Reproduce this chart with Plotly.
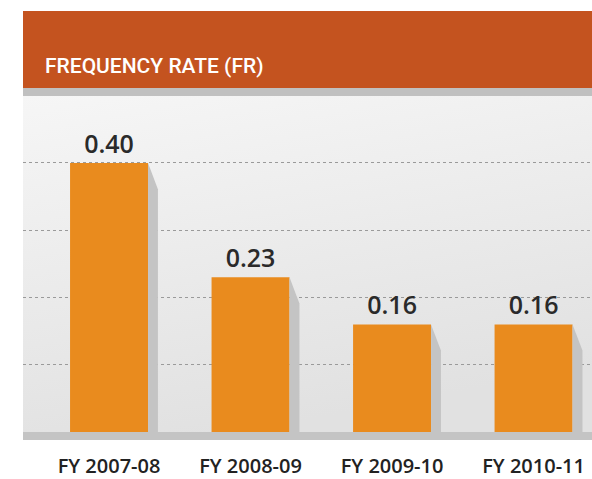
import plotly.graph_objects as go

categories = ["FY 2007-08", "FY 2008-09", "FY 2009-10", "FY 2010-11"]
values = [0.40, 0.23, 0.16, 0.16]
value_labels = ["0.40", "0.23", "0.16", "0.16"]
grid_vals = [0.1, 0.2, 0.3, 0.4]

xpos = list(range(len(categories)))
BAR_W = 0.551
SH_W = 0.07
SH_DROP = 0.039
YMIN, YMAX = -0.0119, 0.4996
XMIN, XMAX = -0.608, 3.413

grad_svg = (
    "data:image/svg+xml;utf8,"
    "<svg xmlns='http://www.w3.org/2000/svg' width='100' height='100' preserveAspectRatio='none'>"
    "<defs><linearGradient id='g' x1='0' y1='0' x2='0.3' y2='1'>"
    "<stop offset='0' stop-color='%23f6f6f6'/><stop offset='1' stop-color='%23e1e1e1'/>"
    "</linearGradient></defs><rect width='100' height='100' fill='url(%23g)'/></svg>"
)

fig = go.Figure()

# shadows
for i, v in zip(xpos, values):
    x0 = i + BAR_W / 2
    x1 = x0 + SH_W
    fig.add_trace(go.Scatter(
        x=[x0, x1, x1, x0, x0], y=[v, v - SH_DROP, 0, 0, v],
        mode="lines", line=dict(width=0), fill="toself", fillcolor="#c4c4c4",
        hoverinfo="skip", showlegend=False))

fig.add_trace(go.Bar(
    x=xpos, y=values, width=BAR_W, marker=dict(color="#e98b1e", line=dict(width=0)),
    text=value_labels, textposition="outside", cliponaxis=False,
    textfont=dict(family="Open Sans", size=25, color="#2a2a2a", weight=600),
    showlegend=False))

fig.update_layout(
    width=592, height=479,
    margin=dict(l=23, r=0, t=96, b=39),
    paper_bgcolor="white", plot_bgcolor="rgba(0,0,0,0)",
    xaxis=dict(range=[XMIN, XMAX], tickvals=xpos, ticktext=categories,
               showgrid=False, zeroline=False, showline=False, ticks="",
               tickfont=dict(family="Open Sans", size=20, color="#222222", weight=600),
               ticklabelstandoff=12),
    yaxis=dict(range=[YMIN, YMAX], tickvals=grid_vals, showgrid=True,
               gridcolor="#9a9a9a", gridwidth=1, griddash="dot", zeroline=False,
               showticklabels=False, ticks=""),
    images=[dict(source=grad_svg, xref="paper", yref="paper", x=0, y=1,
                 sizex=1, sizey=1, sizing="stretch", xanchor="left", yanchor="top",
                 layer="below")],
    shapes=[
        dict(type="rect", xref="paper", yref="paper", x0=0, x1=1, y0=1.0233, y1=1.247,
             fillcolor="#c4531f", line=dict(width=0), layer="above"),
        dict(type="rect", xref="paper", yref="paper", x0=0, x1=1, y0=1.0, y1=1.0233,
             fillcolor="#c0c0c0", line=dict(width=0), layer="above"),
        dict(type="rect", xref="paper", yref="y", x0=0, x1=1, y0=YMIN, y1=0,
             fillcolor="#c4c4c4", line=dict(width=0), layer="above"),
    ],
    annotations=[
        dict(text="FREQUENCY RATE (FR)", xref="paper", yref="paper",
             x=0.035, y=1.088, xanchor="left", yanchor="middle", showarrow=False,
             font=dict(family="Roboto", size=21, color="white", weight=500)),
    ],
)

fig.write_html("out.html", config={"displayModeBar": False},
               post_script="document.body.style.margin='0';")
